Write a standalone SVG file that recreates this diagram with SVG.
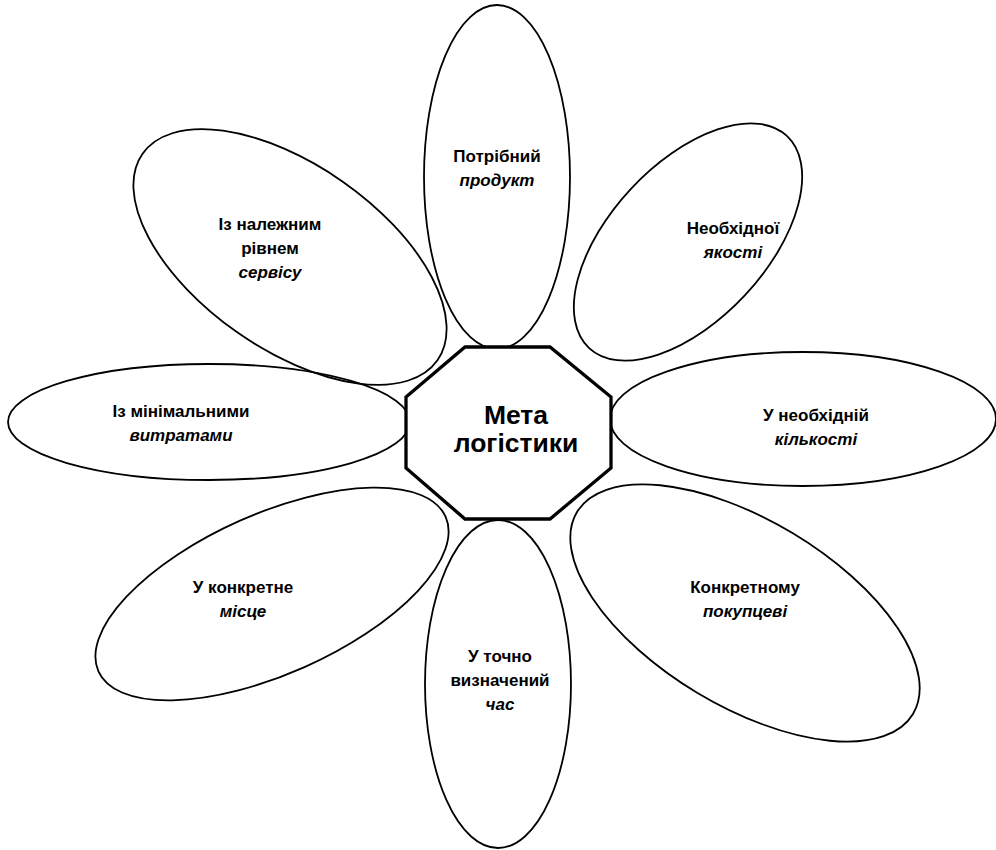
<svg xmlns="http://www.w3.org/2000/svg" width="996" height="850" viewBox="0 0 996 850">
<style>
.p{fill:none;stroke:#000;stroke-width:1.8}
.c{fill:#fff;stroke:#000;stroke-width:3.3;stroke-linejoin:miter}
text{font-family:"Liberation Sans",Arial,sans-serif;font-size:17px;font-weight:bold;fill:#000;text-anchor:middle}
.i{font-style:italic}
.m{font-size:26.5px}
</style>
<rect width="996" height="850" fill="#fff"/>
<g id="connectors"></g>
<g id="n-top"><ellipse class="p" cx="497" cy="177" rx="73" ry="172"/><text x="497" y="162">Потрібний</text><text class="i" x="497" y="186">продукт</text></g>
<g id="n-upper-right"><ellipse class="p" cx="688" cy="242" rx="145" ry="78" transform="rotate(-47 688 242)"/><text x="733" y="234">Необхідної</text><text class="i" x="733" y="258">якості</text></g>
<g id="n-upper-left"><ellipse class="p" cx="290" cy="257" rx="180" ry="92" transform="rotate(35 290 257)"/><text x="270" y="230">Із належним</text><text x="270" y="254">рівнем</text><text class="i" x="270" y="278">сервісу</text></g>
<g id="n-left"><ellipse class="p" cx="209" cy="422" rx="201" ry="58"/><text x="181" y="417">Із мінімальними</text><text class="i" x="181" y="441">витратами</text></g>
<g id="n-right"><ellipse class="p" cx="803" cy="419" rx="193" ry="67"/><text x="816" y="421">У необхідній</text><text class="i" x="816" y="445">кількості</text></g>
<g id="n-lower-left"><ellipse class="p" cx="272" cy="594" rx="190" ry="80" transform="rotate(-24 272 594)"/><text x="243" y="593">У конкретне</text><text class="i" x="243" y="617">місце</text></g>
<g id="n-lower-right"><ellipse class="p" cx="745" cy="613" rx="196" ry="93" transform="rotate(31 745 613)"/><text x="745" y="593">Конкретному</text><text class="i" x="745" y="617">покупцеві</text></g>
<g id="n-bottom"><ellipse class="p" cx="498" cy="684" rx="73" ry="164"/><text x="500" y="662">У точно</text><text x="500" y="686">визначений</text><text class="i" x="500" y="710">час</text></g>
<g id="n-center"><polygon class="c" points="465,347 550,347 611,397 611,468 550,519 465,519 406,468 406,397"/><text class="m" x="516" y="424">Мета</text><text class="m" x="516" y="452">логістики</text></g>
</svg>
